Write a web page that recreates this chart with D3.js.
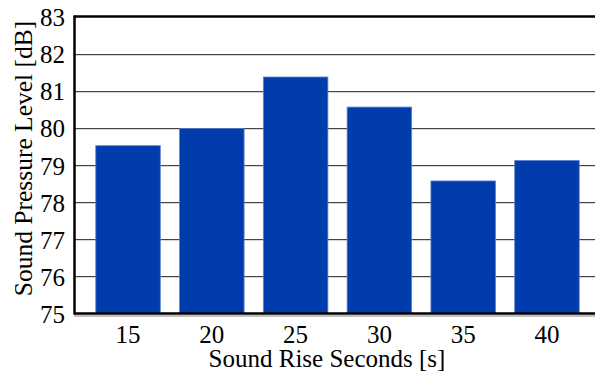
<!DOCTYPE html>
<html>
<head>
<meta charset="utf-8">
<script src="https://cdn.jsdelivr.net/npm/d3@7"></script>
<style>
  html, body { margin: 0; padding: 0; background: #fff; }
  svg { display: block; }
  text { font-family: "Liberation Serif", "Times New Roman", serif; fill: #000; }
</style>
</head>
<body>
<svg id="chart" width="595" height="374"></svg>
<script>
// chart data
const categories = ['15', '20', '25', '30', '35', '40'];
const values = [79.52, 79.98, 81.37, 80.56, 78.57, 79.12];
const yTicks = [75, 76, 77, 78, 79, 80, 81, 82, 83];

const svg = d3.select('#chart');
const width = 595, height = 374;
const plotLeft = 74, plotTop = 16.5, plotBottom = 313.5;

const x = d3.scaleBand()
  .domain(categories)
  .range([plotLeft, 601])
  .paddingInner(0.23)
  .paddingOuter(0.26);

const y = d3.scaleLinear()
  .domain([75, 83])
  .range([plotBottom, plotTop]);

// gridlines (dark line with a soft light shadow underneath)
const gridVals = yTicks.filter(d => d > 75 && d < 83);
const grid = svg.append('g');
grid.selectAll('line.shadow')
  .data(gridVals)
  .join('line')
  .attr('class', 'shadow')
  .attr('x1', plotLeft).attr('x2', width)
  .attr('y1', d => Math.round(y(d)) + 1.5)
  .attr('y2', d => Math.round(y(d)) + 1.5)
  .attr('stroke', '#d8d8d8')
  .attr('stroke-width', 1);
grid.selectAll('line.main')
  .data(gridVals)
  .join('line')
  .attr('class', 'main')
  .attr('x1', plotLeft).attr('x2', width)
  .attr('y1', d => Math.round(y(d)) + 0.5)
  .attr('y2', d => Math.round(y(d)) + 0.5)
  .attr('stroke', '#444')
  .attr('stroke-width', 1);

// bars
svg.append('g')
  .selectAll('rect')
  .data(values)
  .join('rect')
  .attr('x', (d, i) => x(categories[i]))
  .attr('y', d => y(d))
  .attr('width', x.bandwidth())
  .attr('height', d => y(75) - y(d))
  .attr('fill', '#003cab')
  .attr('stroke', '#5a7fcf')
  .attr('stroke-width', 0.8);

// frame: top border, left axis, bottom axis
svg.append('line')
  .attr('x1', plotLeft).attr('x2', width)
  .attr('y1', plotTop).attr('y2', plotTop)
  .attr('stroke', '#000').attr('stroke-width', 2.5);
svg.append('line')
  .attr('x1', plotLeft).attr('x2', width)
  .attr('y1', plotBottom + 2.5).attr('y2', plotBottom + 2.5)
  .attr('stroke', '#aaa').attr('stroke-width', 1.5);
svg.append('line')
  .attr('x1', plotLeft).attr('x2', width)
  .attr('y1', plotBottom).attr('y2', plotBottom)
  .attr('stroke', '#000').attr('stroke-width', 2.5);
svg.append('line')
  .attr('x1', plotLeft + 0.5).attr('x2', plotLeft + 0.5)
  .attr('y1', plotTop - 1).attr('y2', plotBottom + 1)
  .attr('stroke', '#000').attr('stroke-width', 2.5);

// y axis labels
const yAxis = d3.axisLeft(y).tickValues(yTicks).tickSize(0).tickPadding(9).tickFormat(d3.format('d'));
const yg = svg.append('g').attr('transform', `translate(${plotLeft},0)`).call(yAxis);
yg.select('.domain').remove();
yg.selectAll('text')
  .style('font-family', '"Liberation Serif", serif')
  .style('font-size', '25px')
  .attr('dy', '0.36em');

// x axis labels
const xAxis = d3.axisBottom(x).tickSize(0).tickPadding(12);
const xg = svg.append('g').attr('transform', `translate(0,${plotBottom})`).call(xAxis);
xg.select('.domain').remove();
xg.selectAll('text')
  .style('font-family', '"Liberation Serif", serif')
  .style('font-size', '25px');

// axis titles
svg.append('text')
  .attr('x', 327)
  .attr('y', 367)
  .attr('text-anchor', 'middle')
  .style('font-size', '25px')
  .text('Sound Rise Seconds [s]');

svg.append('text')
  .attr('transform', 'translate(32,158.5) rotate(-90)')
  .attr('text-anchor', 'middle')
  .style('font-size', '25.5px')
  .text('Sound Pressure Level [dB]');
</script>
</body>
</html>
